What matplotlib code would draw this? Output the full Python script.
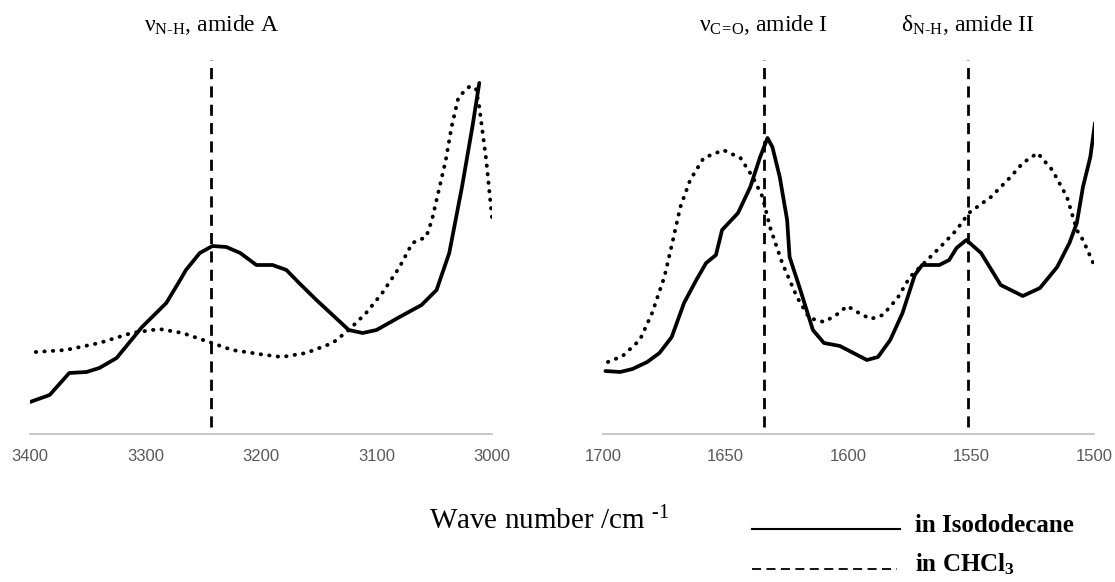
import matplotlib
matplotlib.use("Agg")
import matplotlib.pyplot as plt
from matplotlib.lines import Line2D

# FT-IR spectra (absorbance in arbitrary units)
iso_w_left = [3400, 3383, 3366, 3351, 3340, 3325, 3303, 3282, 3270, 3265, 3253, 3242,
              3230, 3218, 3204, 3190, 3178, 3167, 3152, 3138, 3124, 3112, 3100, 3080,
              3061, 3048, 3037, 3026, 3017, 3011]
iso_a_left = [32, 39, 61, 62, 66, 76, 107, 131, 154, 164, 181, 188,
              187, 181, 169, 169, 164, 151, 134, 119, 104, 101, 104, 117,
              129, 144, 181, 247, 307, 351]

chcl3_w_left = [3395, 3369, 3340, 3312, 3288, 3268, 3245, 3225, 3196, 3182, 3161,
                3138, 3124, 3109, 3095, 3080, 3069, 3057, 3052, 3040, 3035, 3029,
                3020, 3014, 3011, 3005, 3000]
chcl3_a_left = [82, 84, 91, 101, 105, 101, 92, 84, 79, 77, 81,
                91, 104, 121, 141, 167, 191, 197, 214, 274, 307, 337,
                347, 346, 327, 274, 216]

iso_w_right = [1699, 1693, 1688, 1682, 1677, 1672, 1667, 1662, 1658, 1654, 1651.5,
               1645, 1640, 1636, 1633, 1631, 1628, 1625, 1624, 1620, 1614.5, 1610,
               1603.5, 1598, 1592.5, 1588, 1583, 1578, 1573, 1570, 1563, 1559, 1556,
               1552, 1546, 1538, 1529, 1522, 1515, 1510, 1507, 1504.5, 1501.5, 1499.6]
iso_a_right = [63, 62, 65, 72, 81, 97, 131, 154, 171, 179, 204,
               221, 247, 277, 296, 287, 257, 214, 177, 147, 104, 91,
               88, 81, 74, 77, 94, 121, 159, 169, 169, 174, 186,
               194, 181, 149, 138, 146, 167, 191, 211, 247, 277, 311]

chcl3_w_right = [1698, 1692, 1685, 1680, 1675, 1671.5, 1668.5, 1664.5, 1659, 1651, 1644,
                 1639, 1635, 1632, 1627, 1621, 1616, 1610, 1605, 1600.5, 1596.5, 1591,
                 1586, 1580, 1575, 1570, 1563, 1556, 1551, 1542, 1534, 1529, 1523,
                 1517, 1511, 1507, 1504.5, 1499.6]
chcl3_a_right = [72, 78, 94, 121, 157, 194, 227, 254, 276, 284, 276,
                 257, 237, 207, 171, 137, 116, 112, 119, 128, 122, 115,
                 119, 136, 157, 169, 186, 204, 221, 237, 257, 271, 281,
                 264, 237, 204, 194, 167]

peaks_left = [3243]
peaks_right = [1634.5, 1551.5]
labels_left = [r"ν$_{\mathrm{N‐H}}$, amide A"]
labels_right = [r"ν$_{\mathrm{C\!=\!O}}$, amide I", r"δ$_{\mathrm{N‐H}}$, amide II"]

plt.rcParams['mathtext.fontset'] = 'custom'
plt.rcParams['mathtext.rm'] = 'Liberation Serif'
plt.rcParams['mathtext.it'] = 'Liberation Serif:italic'
plt.rcParams['mathtext.bf'] = 'Liberation Serif:bold'

fig = plt.figure(figsize=(11.15, 5.82), dpi=100)
ax1 = fig.add_axes([30 / 1115, 148 / 582, 462 / 1115, 434 / 582])
ax2 = fig.add_axes([603 / 1115, 148 / 582, 491 / 1115, 434 / 582])

dotted = dict(color='black', lw=2.8, linestyle=(0, (0.1, 2.1)), dash_capstyle='round')
solid = dict(color='black', lw=2.7, solid_capstyle='round', solid_joinstyle='round')

ax1.plot(chcl3_w_left, chcl3_a_left, **dotted)
ax1.plot(iso_w_left, iso_a_left, **solid)
ax2.plot(chcl3_w_right, chcl3_a_right, **dotted)
ax2.plot(iso_w_right, iso_a_right, **solid)

for ax, peaks, labels, lim, ticks in [
        (ax1, peaks_left, labels_left, (3400, 3000), [3400, 3300, 3200, 3100, 3000]),
        (ax2, peaks_right, labels_right, (1700, 1500), [1700, 1650, 1600, 1550, 1500])]:
    for p, lab in zip(peaks, labels):
        ax.vlines(p, 7, 374, color='black', lw=2.0, linestyles=(0, (4, 2.6)))
        ax.text(p, 409, lab, ha='center', va='center', fontsize=17,
                family='Liberation Serif')
    ax.set_xlim(*lim)
    ax.set_ylim(0, 434)
    ax.set_xticks(ticks)
    ax.set_yticks([])
    for s in ['top', 'left', 'right']:
        ax.spines[s].set_visible(False)
    ax.spines['bottom'].set_color('#bdbdbd')
    ax.spines['bottom'].set_linewidth(1.2)
    ax.tick_params(axis='x', length=0, pad=11, labelsize=12, labelcolor='#595959')
    for t in ax.get_xticklabels():
        t.set_family('Liberation Sans')
    ax.patch.set_alpha(0)

fig.text(549 / 1115, 1 - 521 / 582, r"Wave number /cm $^{\mathrm{‐1}}$", ha='center',
         va='center', fontsize=21, family='Liberation Serif')

# legend drawn by hand
fig.add_artist(Line2D([752 / 1115, 900 / 1115], [1 - 529 / 582, 1 - 529 / 582],
                      color='black', lw=1.5))
fig.add_artist(Line2D([752 / 1115, 897 / 1115], [1 - 569 / 582, 1 - 569 / 582],
                      color='black', lw=1.3, linestyle=(0, (5, 3))))
fig.text(915 / 1115, 1 - 525 / 582, "in Isododecane", ha='left', va='center',
         fontsize=18, fontweight='bold', family='Liberation Serif')
fig.text(915 / 1115, 1 - 564 / 582, r"in CHCl$_{\mathbf{3}}$", ha='left', va='center',
         fontsize=18, fontweight='bold', family='Liberation Serif')

fig.savefig("out.png", dpi=100)
